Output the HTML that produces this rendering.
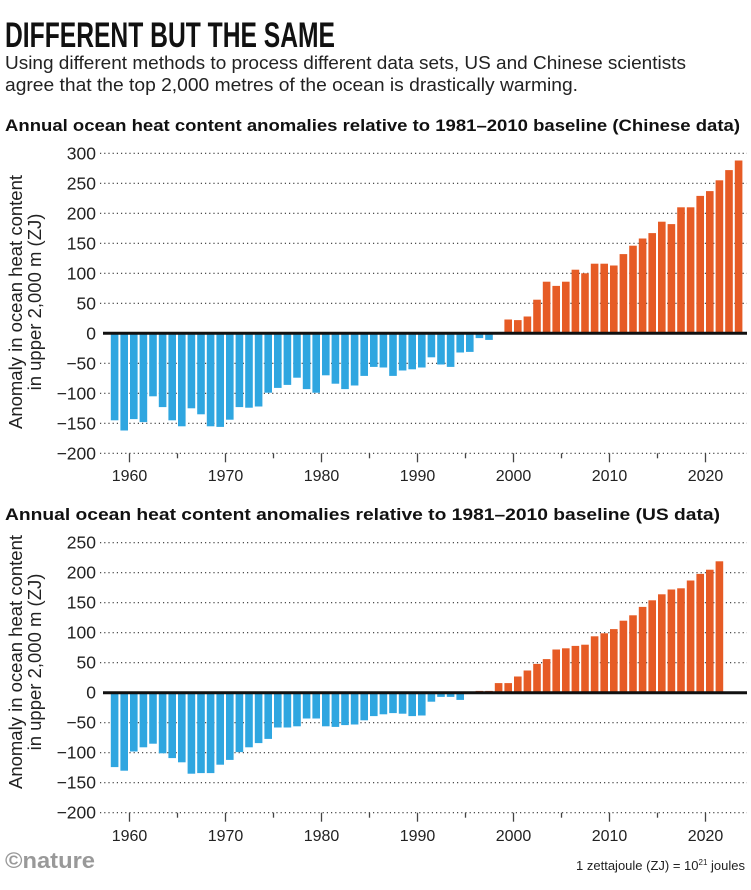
<!DOCTYPE html>
<html><head><meta charset="utf-8">
<style>
html,body{margin:0;padding:0;background:#fff;}
svg{display:block;font-family:"Liberation Sans",sans-serif;}
</style></head>
<body>
<svg id="s" width="751" height="890" viewBox="0 0 751 890" xmlns="http://www.w3.org/2000/svg">
<text x="5" y="47" font-size="35" font-weight="bold" textLength="330" lengthAdjust="spacingAndGlyphs" fill="#111">DIFFERENT BUT THE SAME</text>
<text x="5" y="69" font-size="18" textLength="681" lengthAdjust="spacingAndGlyphs" fill="#222">Using different methods to process different data sets, US and Chinese scientists</text>
<text x="5" y="91" font-size="18" textLength="573" lengthAdjust="spacingAndGlyphs" fill="#222">agree that the top 2,000 metres of the ocean is drastically warming.</text>
<text x="5" y="131" font-size="17" font-weight="bold" textLength="735" lengthAdjust="spacingAndGlyphs" fill="#111">Annual ocean heat content anomalies relative to 1981–2010 baseline (Chinese data)</text>
<text x="5" y="520" font-size="17" font-weight="bold" textLength="715" lengthAdjust="spacingAndGlyphs" fill="#111">Annual ocean heat content anomalies relative to 1981–2010 baseline (US data)</text>
<text x="5" y="868" font-size="22" font-weight="bold" fill="#999" textLength="90" lengthAdjust="spacingAndGlyphs">©nature</text>
<text x="745" y="870" font-size="13" text-anchor="end" fill="#222">1 zettajoule (ZJ) = 10<tspan font-size="8" dy="-5">21</tspan><tspan dy="5"> joules</tspan></text>
<g id="c1"></g><g id="c2"></g>
</svg>
<script>
var NS="http://www.w3.org/2000/svg";
function el(p,t,a,txt){var e=document.createElementNS(NS,t);for(var k in a)e.setAttribute(k,a[k]);if(txt!==undefined)e.textContent=txt;p.appendChild(e);return e;}
var d1=[-145,-162,-143,-148,-105,-123,-145,-155,-125,-135,-155,-156,-144,-123,-124,-122,-99,-91,-86,-74,-93,-99,-70,-84,-93,-87,-71,-56,-57,-71,-62,-60,-57,-40,-52,-56,-32,-31,-8,-11,2,23,22,28,56,86,79,86,106,100,116,116,113,132,146,158,167,186,182,210,210,229,237,255,272,288];
var d2=[-124,-130,-98,-91,-85,-101,-109,-116,-135,-134,-134,-120,-112,-99,-91,-84,-77,-58,-58,-56,-43,-43,-56,-57,-54,-53,-46,-39,-36,-34,-35,-39,-38,-15,-7,-7,-12,0,3,3,16,16,27,37,48,56,72,74,78,80,94,99,106,120,129,143,154,164,172,174,187,198,205,219];
function chart(g,data,zero,top,topVal,labY,axisCY){
  var pu=30/50;
  for(var v=topVal;v>=-200;v-=50){
    var y=zero-v*pu;
    if(v!==0) el(g,'line',{x1:100,x2:747,y1:y,y2:y,stroke:'#333','stroke-width':1.2,'stroke-dasharray':'1.2 3'});
    el(g,'text',{x:96,y:y+6,'font-size':17.5,'text-anchor':'end',fill:'#222'},(v<0?'\u2212':'')+Math.abs(v));
  }
  var yb=zero+200*pu;
  for(var yr=1960;yr<=2025;yr+=5){
    var x=129.5+(yr-1960)*9.6;
    el(g,'line',{x1:x,x2:x,y1:yb,y2:yb+(yr%10==0?9:5),stroke:'#444','stroke-width':1.3});
    if(yr%10==0&&yr<=2020) el(g,'text',{x:x,y:labY,'font-size':16,'text-anchor':'middle',fill:'#222'},yr);
  }
  for(var i=0;i<data.length;i++){
    var v=data[i];if(v===0)continue;
    var x=110.8+i*9.6,h=Math.abs(v)*pu;
    el(g,'rect',{x:x,y:v>0?zero-h:zero,width:7.6,height:h,fill:v>0?'#e65b25':'#2fa6e0'});
  }
  el(g,'line',{x1:103,x2:747,y1:zero,y2:zero,stroke:'#111','stroke-width':3});
  var t=el(g,'text',{transform:'translate(22,'+axisCY+') rotate(-90)','font-size':18.5,'text-anchor':'middle',fill:'#222'});
  el(t,'tspan',{x:0,y:0},'Anomaly in ocean heat content');
  el(t,'tspan',{x:0,y:19},'in upper 2,000 m (ZJ)');
}
chart(document.getElementById('c1'),d1,333.3,154,300,481,302);
chart(document.getElementById('c2'),d2,692.7,543,250,841,662);
</script>
</body></html>
